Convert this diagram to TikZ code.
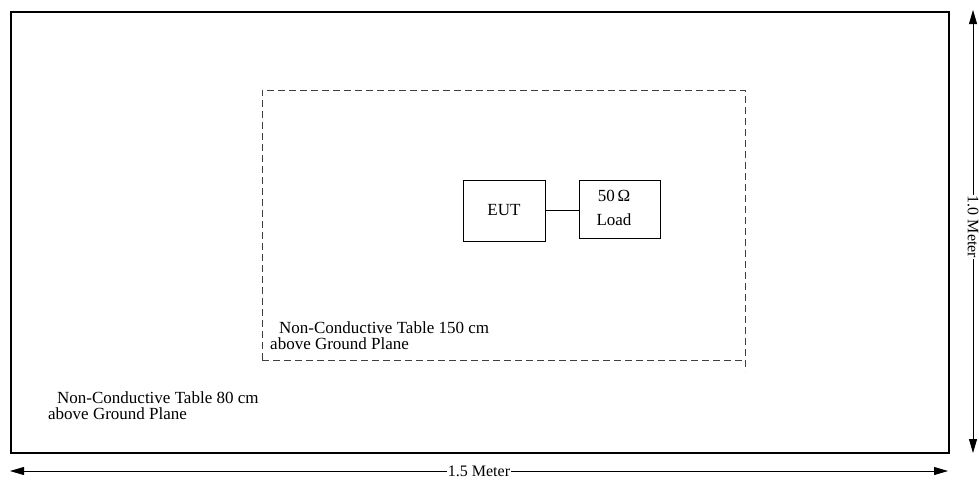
\documentclass[tikz,border=0pt]{standalone}
\usepackage{fontspec}
\setmainfont{Liberation Serif}
\usetikzlibrary{arrows.meta}
\begin{document}
\begin{tikzpicture}[x=1pt,y=-1pt,
  lbl/.style={font=\fontsize{17}{17}\selectfont, inner sep=0pt, anchor=base west},
  para/.style={font=\fontsize{17}{16}\selectfont, inner sep=0pt, align=left, anchor=base west},
  box/.style={draw, line width=0.9pt, inner sep=0pt},
  dim/.style={line width=0.8pt, {Triangle[length=14pt,width=8pt]}-{Triangle[length=14pt,width=8pt]}},
  dash box/.style={draw=black!75, line width=1pt, dash pattern=on 7pt off 4pt}]
\useasboundingbox (0,0) rectangle (979,480);
% outer table
\node[box, line width=2pt, minimum width=938pt, minimum height=441pt] (outer) at (480,232.5) {};
% dashed table
\coordinate (dtl) at (262,90);
\coordinate (dtr) at (745,90);
\coordinate (dbr) at (745,360);
\coordinate (dbl) at (262,360);
\coordinate (dext) at (745,371);
\draw[dash box] (dbl) -- (dtl) -- (dtr) -- (dext);
\draw[dash box] (dbl) -- (dbr);
% EUT and load
\node[box, minimum width=82pt, minimum height=61pt] (eut) at (504,210.5) {};
\node[lbl, anchor=center] at (eut.center) {EUT};
\node[box, minimum width=81pt, minimum height=58pt] (load) at (619.5,209) {};
\node[lbl, anchor=center] at (614,196) {50\,Ω};
\node[lbl, anchor=center] at (614,220) {Load};
\draw[line width=0.9pt] (eut.east) -- (load.west |- eut.east);
% labels
\node[para] (t1) at (270,349) {\hspace*{9pt}Non-Conductive Table 150 cm\\above Ground Plane};
\node[para] (t2) at (48,419) {\hspace*{9pt}Non-Conductive Table 80 cm\\above Ground Plane};
% dimensions
\coordinate (hl) at (10,471);
\coordinate (hr) at (948,471);
\draw[dim] (hl) -- (hr) node[pos=0.5, fill=white, inner sep=1pt, font=\fontsize{16}{16}\selectfont] (hlab) {1.5 Meter};
\coordinate (vt) at (973,10);
\coordinate (vb) at (973,453);
\draw[dim] (vt) -- (vb) node[pos=0.49, fill=white, inner sep=1pt, rotate=-90, font=\fontsize{16}{16}\selectfont] (vlab) {1.0 Meter};
\end{tikzpicture}
\end{document}
